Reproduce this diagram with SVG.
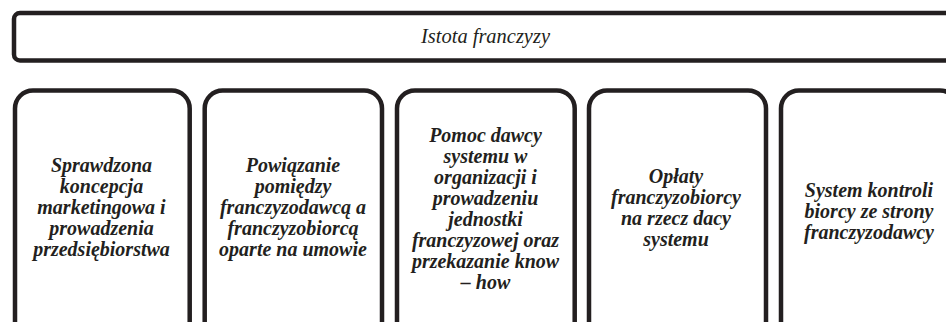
<svg xmlns="http://www.w3.org/2000/svg" width="946" height="322" viewBox="0 0 946 322">
<style>
.box{fill:#fff;stroke:#231f20;stroke-width:4.5}
.t{font-family:'Liberation Serif','Times New Roman',serif;font-style:italic;font-weight:bold;font-size:20px;fill:#231f20;text-anchor:middle}
.title{font-family:'Liberation Serif','Times New Roman',serif;font-style:italic;font-size:22px;fill:#231f20;text-anchor:middle}
</style>
<rect width="946" height="322" fill="#fff"/>
<g id="top">
<rect class="box" x="14" y="13" width="960" height="47.5" rx="6"/>
<text class="title" x="485.5" y="43" textLength="129" lengthAdjust="spacingAndGlyphs">Istota franczyzy</text>
</g>
<g id="connectors"></g>
<g id="n1">
<rect class="box" x="15" y="90.5" width="174.7" height="260" rx="18"/>
<text class="t"><tspan x="101.5" y="172">Sprawdzona</tspan><tspan x="101.5" y="193">koncepcja</tspan><tspan x="101.5" y="214">marketingowa i</tspan><tspan x="101.5" y="235">prowadzenia</tspan><tspan x="101.5" y="256">przedsiębiorstwa</tspan></text>
</g>
<g id="n2">
<rect class="box" x="204.7" y="90.5" width="177.3" height="260" rx="18"/>
<text class="t"><tspan x="293" y="172">Powiązanie</tspan><tspan x="293" y="193">pomiędzy</tspan><tspan x="293" y="214">franczyzodawcą a</tspan><tspan x="293" y="235">franczyzobiorcą</tspan><tspan x="293" y="256">oparte na umowie</tspan></text>
</g>
<g id="n3">
<rect class="box" x="397" y="90.5" width="177.7" height="260" rx="18"/>
<text class="t"><tspan x="485.5" y="142">Pomoc dawcy</tspan><tspan x="485.5" y="163">systemu w</tspan><tspan x="485.5" y="184">organizacji i</tspan><tspan x="485.5" y="205">prowadzeniu</tspan><tspan x="485.5" y="226">jednostki</tspan><tspan x="485.5" y="247">franczyzowej oraz</tspan><tspan x="485.5" y="268">przekazanie know</tspan><tspan x="485.5" y="289">– how</tspan></text>
</g>
<g id="n4">
<rect class="box" x="589" y="90.5" width="177" height="260" rx="18"/>
<text class="t"><tspan x="676" y="183">Opłaty</tspan><tspan x="676" y="204">franczyzobiorcy</tspan><tspan x="676" y="225">na rzecz dacy</tspan><tspan x="676" y="246">systemu</tspan></text>
</g>
<g id="n5">
<rect class="box" x="781" y="90.5" width="177" height="260" rx="18"/>
<text class="t"><tspan x="869" y="197">System kontroli</tspan><tspan x="869" y="218">biorcy ze strony</tspan><tspan x="869" y="239">franczyzodawcy</tspan></text>
</g>
</svg>
